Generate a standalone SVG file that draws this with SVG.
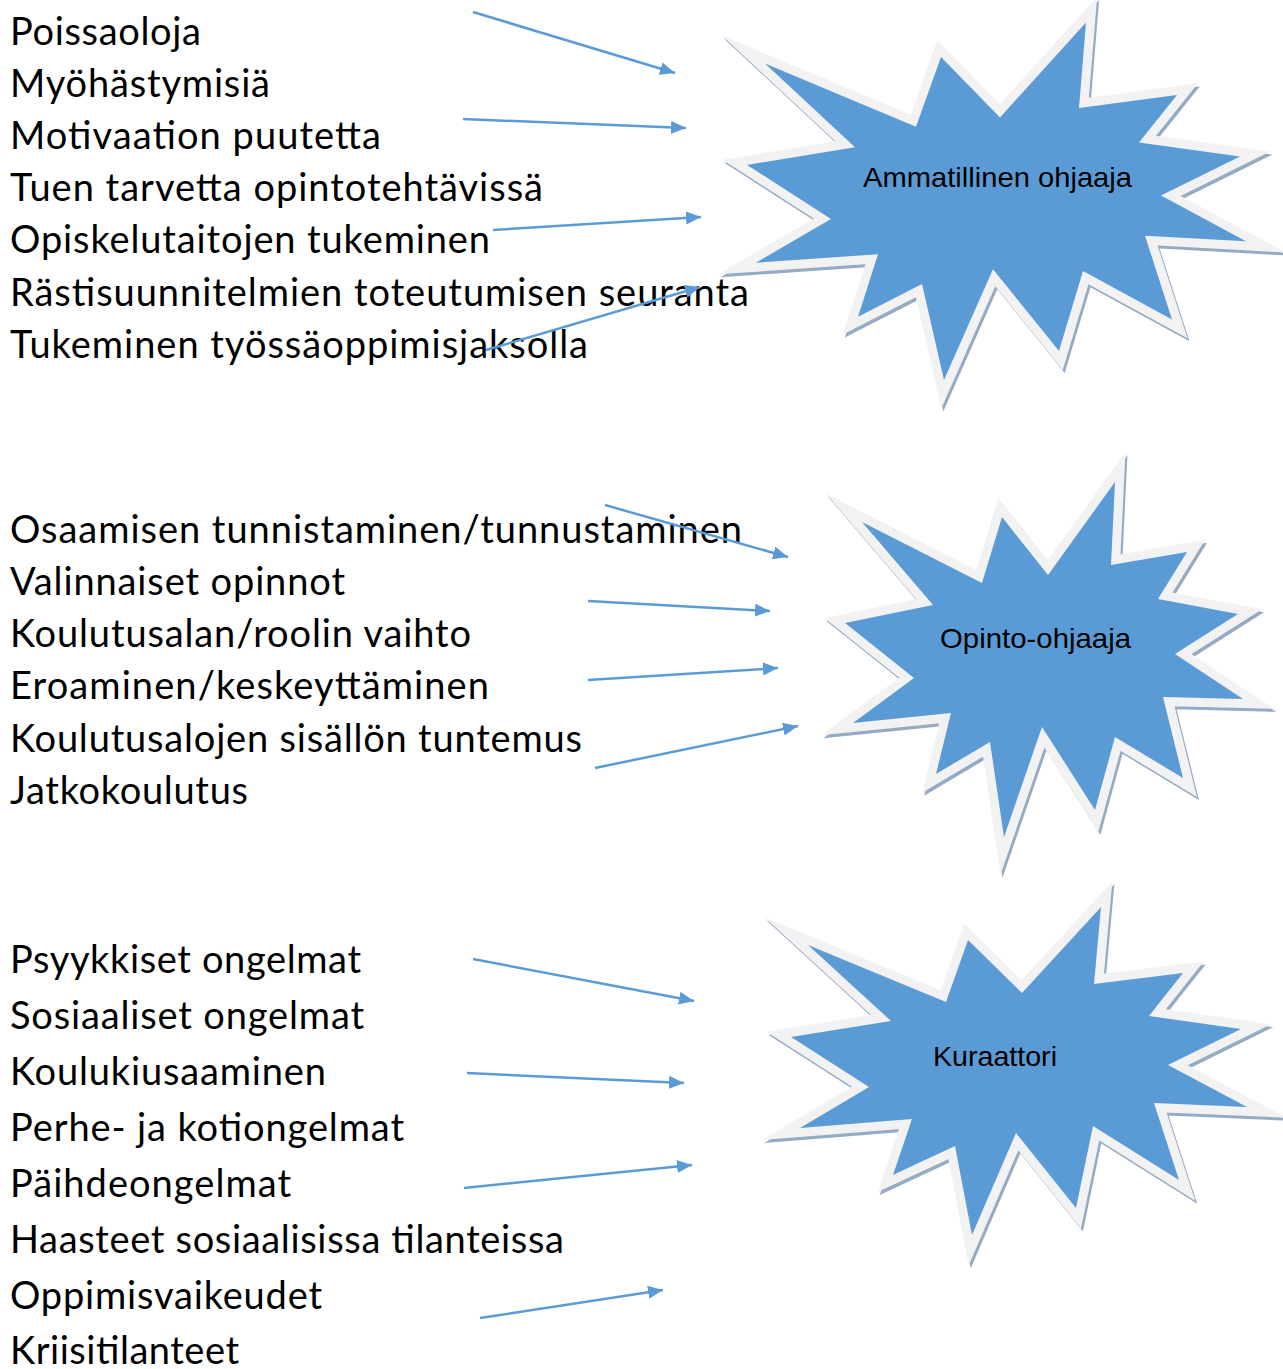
<svg xmlns="http://www.w3.org/2000/svg" xmlns:xlink="http://www.w3.org/1999/xlink" width="1283" height="1369" viewBox="0 0 1283 1369">
<style>
.item{font-family:Lato,"Liberation Sans",sans-serif;font-size:38px;fill:#000}
.label{font-family:"Liberation Sans",Arial,sans-serif;font-size:28px;fill:#000;text-anchor:middle}
.shadow{fill:#95abc4;stroke:#95abc4;stroke-width:18;stroke-linejoin:miter;stroke-miterlimit:12}
.star{fill:#5b9bd5;stroke:#f2f2f2;stroke-width:18;stroke-linejoin:miter;stroke-miterlimit:12;paint-order:stroke}
.conn{stroke:#5b9bd5;stroke-width:2.5;fill:none;marker-end:url(#ah)}
</style>
<defs>
<marker id="ah" markerUnits="userSpaceOnUse" markerWidth="16" markerHeight="14" refX="15" refY="6.5" orient="auto">
<path d="M0,0 L15,6.5 L0,13 Z" fill="#5b9bd5"/>
</marker>
<polygon id="s1" points="765,63.4 916,126.8 941,56.9 1000,117.4 1086,22.5 1079,108.1 1177,95.1 1139,142.6 1240,156.5 1161,195.6 1246,241.3 1145,235.7 1172,319.5 1083,271.1 1059,351.1 993,269.2 944,380 922,284.1 858,316.7 878,254.3 756,262.7 831,218.9 747,164.9 855,147.2"/>
<polygon id="s2" points="862,522 982,583 1002,517 1048,575 1115,482 1111,565 1187,552 1158,599 1238,614 1175,654 1243,699 1163,697 1183,778 1115,737 1095,810 1042,727 1004,837 990,742 936,774 951,713 853,723 914,678 845,623 933,605"/>
<polygon id="s3" points="808,945 946,1002 968,940 1022,993 1101,907 1094,984 1183,973 1149,1016 1241,1029 1168,1065 1247,1107 1154,1103 1179,1180 1093,1126 1076,1208 1016,1133 972,1235 955,1146 893,1175 912,1119 800,1128 869,1087 791,1037 891,1021"/>
</defs>

<g id="node-ammatillinen">
<use xlink:href="#s1" class="shadow" transform="translate(2,3)"/>
<use xlink:href="#s1" class="star"/>
<text class="label" x="997.5" y="187" textLength="269" lengthAdjust="spacingAndGlyphs">Ammatillinen ohjaaja</text>
</g>
<g id="node-opinto">
<use xlink:href="#s2" class="shadow" transform="translate(2,3)"/>
<use xlink:href="#s2" class="star"/>
<text class="label" x="1035.5" y="648" textLength="191" lengthAdjust="spacingAndGlyphs">Opinto-ohjaaja</text>
</g>
<g id="node-kuraattori">
<use xlink:href="#s3" class="shadow" transform="translate(2,3)"/>
<use xlink:href="#s3" class="star"/>
<text class="label" x="995" y="1066" textLength="124" lengthAdjust="spacingAndGlyphs">Kuraattori</text>
</g>

<g id="list-1">
<text class="item" x="10" y="45" textLength="191" lengthAdjust="spacing">Poissaoloja</text>
<text class="item" x="10" y="97" textLength="260" lengthAdjust="spacing">Myöhästymisiä</text>
<text class="item" x="10" y="149" textLength="371" lengthAdjust="spacing">Motivaation puutetta</text>
<text class="item" x="10" y="201" textLength="533" lengthAdjust="spacing">Tuen tarvetta opintotehtävissä</text>
<text class="item" x="10" y="253" textLength="480" lengthAdjust="spacing">Opiskelutaitojen tukeminen</text>
<text class="item" x="10" y="306" textLength="739" lengthAdjust="spacing">Rästisuunnitelmien toteutumisen seuranta</text>
<text class="item" x="10" y="358" textLength="578" lengthAdjust="spacing">Tukeminen työssäoppimisjaksolla</text>
</g>
<g id="list-2">
<text class="item" x="10" y="543" textLength="732" lengthAdjust="spacing">Osaamisen tunnistaminen/tunnustaminen</text>
<text class="item" x="10" y="595" textLength="335" lengthAdjust="spacing">Valinnaiset opinnot</text>
<text class="item" x="10" y="647" textLength="461" lengthAdjust="spacing">Koulutusalan/roolin vaihto</text>
<text class="item" x="10" y="699" textLength="479" lengthAdjust="spacing">Eroaminen/keskeyttäminen</text>
<text class="item" x="10" y="752" textLength="572" lengthAdjust="spacing">Koulutusalojen sisällön tuntemus</text>
<text class="item" x="10" y="804" textLength="238" lengthAdjust="spacing">Jatkokoulutus</text>
</g>
<g id="list-3">
<text class="item" x="10" y="973" textLength="351" lengthAdjust="spacing">Psyykkiset ongelmat</text>
<text class="item" x="10" y="1029" textLength="354" lengthAdjust="spacing">Sosiaaliset ongelmat</text>
<text class="item" x="10" y="1085" textLength="316" lengthAdjust="spacing">Koulukiusaaminen</text>
<text class="item" x="10" y="1141" textLength="394" lengthAdjust="spacing">Perhe- ja kotiongelmat</text>
<text class="item" x="10" y="1197" textLength="281" lengthAdjust="spacing">Päihdeongelmat</text>
<text class="item" x="10" y="1253" textLength="554" lengthAdjust="spacing">Haasteet sosiaalisissa tilanteissa</text>
<text class="item" x="10" y="1309" textLength="312" lengthAdjust="spacing">Oppimisvaikeudet</text>
<text class="item" x="10" y="1364" textLength="229" lengthAdjust="spacing">Kriisitilanteet</text>
</g>

<g id="connectors">
<line class="conn" x1="473" y1="12" x2="675" y2="73"/>
<line class="conn" x1="463" y1="119" x2="686" y2="128"/>
<line class="conn" x1="493" y1="230" x2="701" y2="217"/>
<line class="conn" x1="486" y1="350" x2="700" y2="287"/>
<line class="conn" x1="605" y1="505" x2="788" y2="557"/>
<line class="conn" x1="588" y1="601" x2="770" y2="611"/>
<line class="conn" x1="588" y1="680" x2="778" y2="668"/>
<line class="conn" x1="595" y1="768" x2="798" y2="726"/>
<line class="conn" x1="473" y1="959" x2="694" y2="1001"/>
<line class="conn" x1="467" y1="1073" x2="684" y2="1083"/>
<line class="conn" x1="464" y1="1188" x2="692" y2="1165"/>
<line class="conn" x1="480" y1="1318" x2="663" y2="1290"/>
</g>
</svg>
